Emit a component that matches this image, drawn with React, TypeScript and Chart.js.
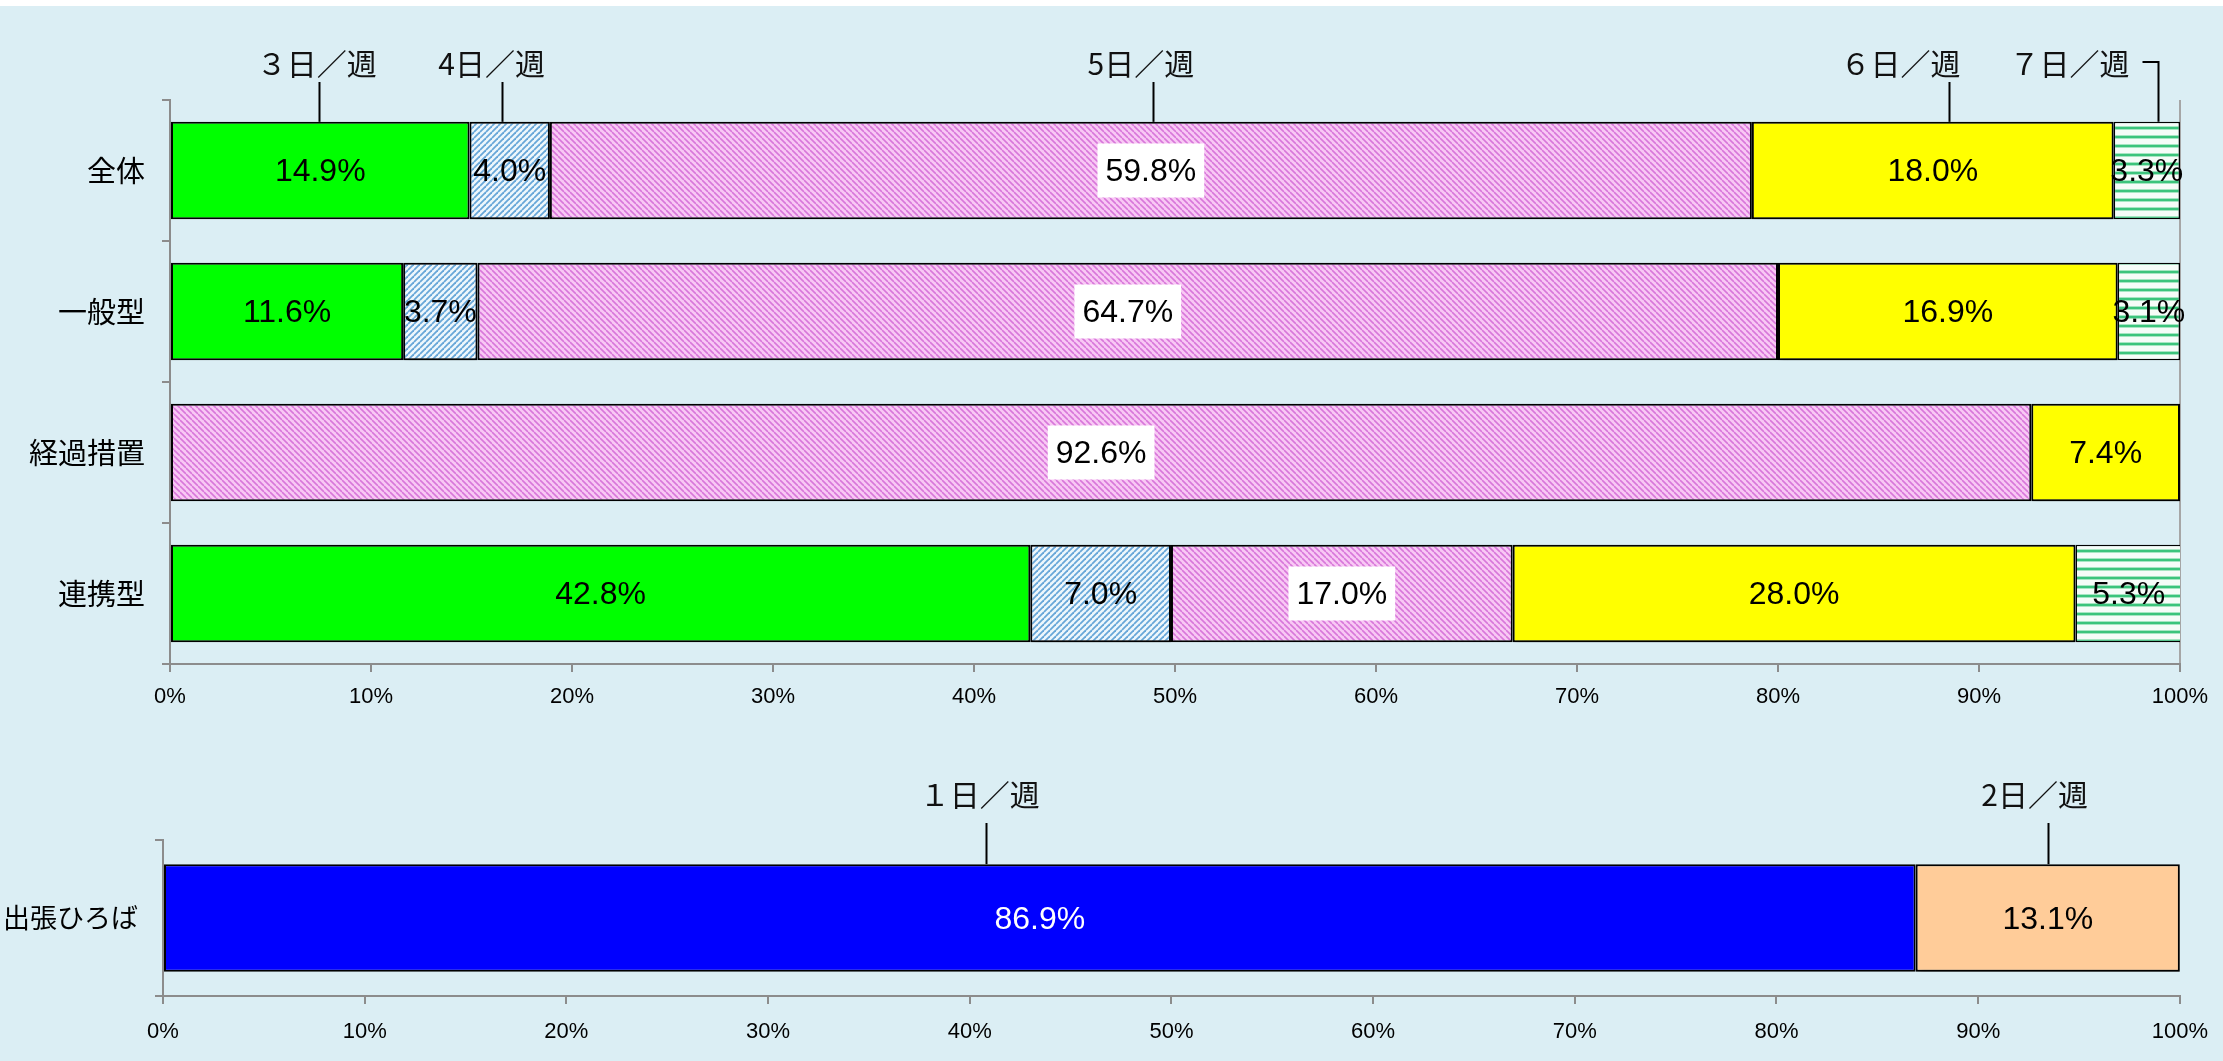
import React, { useEffect, useRef } from 'react';
import { Chart, registerables } from 'chart.js';
Chart.register(...registerables);

// ---- Top chart data ----
const categories = ['全体', '一般型', '経過措置', '連携型'];
const days3 = [14.9, 11.6, null, 42.8];
const days4 = [4.0, 3.7, null, 7.0];
const days5 = [59.8, 64.7, 92.6, 17.0];
const days6 = [18.0, 16.9, 7.4, 28.0];
const days7 = [3.3, 3.1, null, 5.3];
const seriesNames = ['３日／週', '4日／週', '5日／週', '６日／週', '７日／週'];
const headerLabelX = [7.3, 16.0, 48.3, 86.1, 94.5];
const leaderX = [7.4, 16.5, 48.9, 88.5, 98.9];

// ---- Bottom chart data ----
const bottomCategories = ['出張ひろば'];
const days1 = [86.9];
const days2 = [13.1];
const bottomNames = ['１日／週', '2日／週'];
const bottomHeaderX = [40.5, 92.8];
const bottomLeaderX = [40.8, 93.45];

const xTickStep = 10;

const LABEL_FONT = '"Liberation Sans", Arial, sans-serif';
const CJK_FONT = '"Noto Sans CJK JP", "Noto Sans", sans-serif';

function makePattern(kind: string): CanvasPattern | string {
  const c = document.createElement('canvas');
  const g = c.getContext('2d');
  if (!g) return '#ccc';
  if (kind === 'pink') {
    const s = 6;
    c.width = s; c.height = s;
    g.fillStyle = '#F8C8F4';
    g.fillRect(0, 0, s, s);
    g.strokeStyle = '#D877DA';
    g.lineWidth = 1.6;
    for (let k = -1; k <= 1; k++) {
      g.beginPath();
      g.moveTo(0, k * s);
      g.lineTo(s, s + k * s);
      g.stroke();
    }
  } else if (kind === 'blue') {
    const s = 6;
    c.width = s; c.height = s;
    g.fillStyle = '#EEF7FC';
    g.fillRect(0, 0, s, s);
    g.strokeStyle = '#67A6D8';
    g.lineWidth = 1.8;
    for (let k = 0; k <= 2; k++) {
      g.beginPath();
      g.moveTo(0, k * s);
      g.lineTo(s, k * s - s);
      g.stroke();
    }
  } else {
    c.width = 4; c.height = 9;
    g.fillStyle = '#F6FCF8';
    g.fillRect(0, 0, 4, 9);
    g.fillStyle = '#A6E6C2';
    g.fillRect(0, 0, 4, 1);
    g.fillRect(0, 3, 4, 1);
    g.fillStyle = '#3CC47C';
    g.fillRect(0, 1, 4, 2);
  }
  const p = g.createPattern(c, 'repeat');
  return p || '#ccc';
}

const shadowPlugin = {
  id: 'segShadow',
  beforeDatasetDraw(chart: any, args: any) {
    const ds = chart.data.datasets[args.index];
    if (ds.shadow) {
      const c = chart.ctx;
      c.save();
      c.shadowColor = 'rgba(0,0,0,0.4)';
      c.shadowBlur = 6;
      c.shadowOffsetX = 2;
      c.shadowOffsetY = 3;
    }
  },
  afterDatasetDraw(chart: any, args: any) {
    const ds = chart.data.datasets[args.index];
    if (ds.shadow) chart.ctx.restore();
  },
};

const dataLabelPlugin = {
  id: 'segLabels',
  afterDatasetsDraw(chart: any) {
    const ctx = chart.ctx;
    const fontSize = chart.options.plugins.segLabels.fontSize;
    ctx.save();
    ctx.font = `${fontSize}px ${LABEL_FONT}`;
    ctx.textAlign = 'center';
    ctx.textBaseline = 'middle';
    chart.data.datasets.forEach((ds: any, i: number) => {
      const meta = chart.getDatasetMeta(i);
      meta.data.forEach((el: any, j: number) => {
        const v = ds.data[j];
        if (v === null || v === undefined) return;
        const pt = el.getCenterPoint();
        const txt = v.toFixed(1) + '%';
        if (ds.whiteBox) {
          const w = ctx.measureText(txt).width + 16;
          const h = 54;
          ctx.fillStyle = '#FFFFFF';
          ctx.fillRect(pt.x - w / 2, pt.y - h / 2, w, h);
        }
        ctx.fillStyle = ds.labelColor || '#000';
        ctx.fillText(txt, pt.x, pt.y + 2);
      });
    });
    ctx.restore();
  },
};

const headerPlugin = {
  id: 'headers',
  afterDraw(chart: any) {
    const opts = chart.options.plugins.headers;
    const ctx = chart.ctx;
    const x = chart.scales.x;
    const el = chart.getDatasetMeta(0).data[0];
    const barTop = el.y - el.height / 2;
    ctx.save();
    ctx.font = `30px ${CJK_FONT}`;
    ctx.textAlign = 'center';
    ctx.textBaseline = 'middle';
    ctx.fillStyle = '#111';
    ctx.strokeStyle = '#000';
    ctx.lineWidth = 2;
    opts.names.forEach((name: string, i: number) => {
      ctx.fillText(name, x.getPixelForValue(opts.labelX[i]), opts.labelY);
      const lx = Math.round(x.getPixelForValue(opts.leaderX[i])) + 0.5;
      ctx.beginPath();
      if (opts.hookLast && i === opts.names.length - 1) {
        ctx.moveTo(lx, barTop);
        ctx.lineTo(lx, opts.labelY - 2);
        ctx.lineTo(lx - 16, opts.labelY - 2);
      } else {
        ctx.moveTo(lx, barTop);
        ctx.lineTo(lx, opts.leaderTop);
      }
      ctx.stroke();
    });
    ctx.restore();
  },
};

function baseOptions(fixedLeft: number, axisH: number, padTop: number, padRight: number, labelFont: number, tickPad: number, yPad: number, rightLine: boolean) {
  return {
    animation: false,
    responsive: false,
    indexAxis: 'y',
    layout: { padding: { top: padTop, right: padRight, left: 0, bottom: 0 } },
    plugins: {
      legend: { display: false },
      tooltip: { enabled: false },
    },
    scales: {
      x: {
        stacked: true,
        min: 0,
        max: 100,
        ticks: {
          stepSize: xTickStep,
          callback: (v: any) => v + '%',
          font: { family: LABEL_FONT, size: 22 },
          color: '#000',
          padding: tickPad,
          maxRotation: 0,
          autoSkip: false,
        },
        grid: {
          drawOnChartArea: rightLine,
          drawTicks: true,
          tickLength: 8,
          tickColor: '#8C8C8C',
          tickWidth: 2,
          color: (c: any) => (c.tick && c.tick.value === 100 ? '#A6A6A6' : 'rgba(0,0,0,0)'),
          lineWidth: 2,
        },
        border: { display: true, color: '#8C8C8C', width: 2 },
        afterFit: (s: any) => { s.height = axisH; },
      },
      y: {
        stacked: true,
        ticks: {
          font: { family: CJK_FONT, size: labelFont },
          color: '#000',
          padding: yPad,
        },
        grid: {
          offset: true,
          drawOnChartArea: false,
          drawTicks: true,
          tickLength: 8,
          color: '#8C8C8C',
          lineWidth: 2,
        },
        border: { display: true, color: '#8C8C8C', width: 2 },
        afterFit: (s: any) => { s.width = fixedLeft; },
      },
    },
  } as any;
}

function TopChart() {
  const ref = useRef<HTMLCanvasElement>(null);
  useEffect(() => {
    if (!ref.current) return;
    const common = { borderColor: '#000', borderWidth: 2, borderSkipped: false, categoryPercentage: 1, barPercentage: 0.69 };
    const opts = baseOptions(170, 66, 100, 43, 29, 12, 17, true);
    opts.plugins.segLabels = { fontSize: 32 };
    opts.plugins.headers = {
      names: seriesNames, labelX: headerLabelX, leaderX: leaderX,
      labelY: 64, leaderTop: 82, hookLast: true,
    };
    const chart = new Chart(ref.current, {
      type: 'bar',
      data: {
        labels: categories,
        datasets: [
          { label: seriesNames[0], data: days3, backgroundColor: '#00FF00', ...common },
          { label: seriesNames[1], data: days4, backgroundColor: makePattern('blue'), shadow: true, ...common },
          { label: seriesNames[2], data: days5, backgroundColor: makePattern('pink'), whiteBox: true, ...common },
          { label: seriesNames[3], data: days6, backgroundColor: '#FFFF00', shadow: true, ...common },
          { label: seriesNames[4], data: days7, backgroundColor: makePattern('green'), ...common, borderWidth: 1.5 },
        ] as any,
      },
      options: opts,
      plugins: [shadowPlugin, dataLabelPlugin, headerPlugin],
    });
    return () => chart.destroy();
  }, []);
  return <canvas ref={ref} width={2223} height={730} style={{ position: 'absolute', left: 0, top: 0, width: 2223, height: 730 }} />;
}

function BottomChart() {
  const ref = useRef<HTMLCanvasElement>(null);
  useEffect(() => {
    if (!ref.current) return;
    const common = { borderColor: '#000', borderWidth: 2, borderSkipped: false, categoryPercentage: 1, barPercentage: 0.69 };
    const opts = baseOptions(163, 65, 110, 39, 27, 15, 17, false);
    opts.plugins.segLabels = { fontSize: 32 };
    opts.plugins.headers = {
      names: bottomNames, labelX: bottomHeaderX, leaderX: bottomLeaderX,
      labelY: 65, leaderTop: 93, hookLast: false,
    };
    const chart = new Chart(ref.current, {
      type: 'bar',
      data: {
        labels: bottomCategories,
        datasets: [
          { label: bottomNames[0], data: days1, backgroundColor: '#0000FF', labelColor: '#FFFFFF', ...common },
          { label: bottomNames[1], data: days2, backgroundColor: '#FFCC99', shadow: true, ...common },
        ] as any,
      },
      options: opts,
      plugins: [shadowPlugin, dataLabelPlugin, headerPlugin],
    });
    return () => chart.destroy();
  }, []);
  return <canvas ref={ref} width={2223} height={331} style={{ position: 'absolute', left: 0, top: 730, width: 2223, height: 331 }} />;
}

export default function App() {
  return (
    <div style={{ position: 'absolute', left: 0, top: 0, width: 2223, height: 1061, background: '#FFFFFF', overflow: 'hidden' }}>
      <div style={{ position: 'absolute', left: 0, top: 6, width: 2223, height: 1055, background: '#DBEEF4' }} />
      <TopChart />
      <BottomChart />
    </div>
  );
}
